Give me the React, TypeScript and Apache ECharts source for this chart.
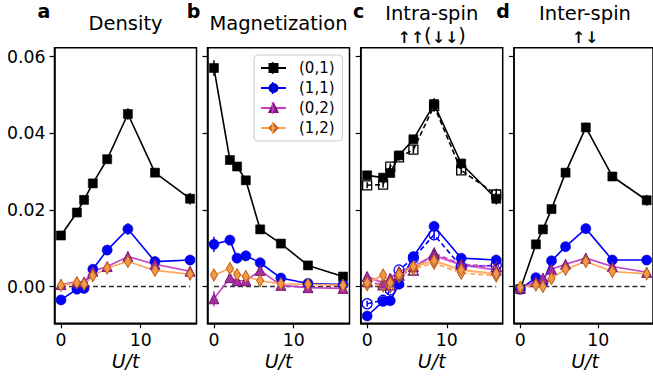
import React, { useEffect, useRef } from 'react';
import * as echarts from 'echarts';

// ---------- data ----------
const UT = [0, 2, 2.9, 4, 5.8, 8.4, 11.8, 16.2];
const SERIES_NAMES = ['(0,1)', '(1,1)', '(0,2)', '(1,2)'];
const Y_TICKS = [0, 0.02, 0.04, 0.06];
const X_TICKS = [0, 10];
const PANEL_LABELS = ['a', 'b', 'c', 'd'];
const PANEL_TITLES = [['Density'], ['Magnetization'], ['Intra-spin', '{ar|↑↑}{p|(}{ar|↓↓}{p|)}'], ['Inter-spin', '{ar|↑↓}']];
const X_LABEL = 'U/t';

// a: Density
const A01 = [0.0133, 0.0193, 0.0226, 0.0269, 0.0332, 0.045, 0.0297, 0.0229];
const A11 = [-0.0035, -0.0007, -0.0005, 0.0045, 0.0095, 0.015, 0.0065, 0.0069];
const A02 = [0.0005, 0.0012, 0.0012, 0.004, 0.0052, 0.0078, 0.0058, 0.004];
const A12 = [0.0003, 0.001, 0.0006, 0.0028, 0.0048, 0.0065, 0.0042, 0.0032];
const A01_ERR = [0.0006, 0.0007, 0.0007, 0.0007, 0.0008, 0.0015, 0.0008, 0.0015];
const A11_ERR = [0.0006, 0.0006, 0.0006, 0.0008, 0.0008, 0.0015, 0.0008, 0.0008];
const A02_ERR = [0.0005, 0.0005, 0.0005, 0.0006, 0.0006, 0.0013, 0.0007, 0.0007];
const A12_ERR = [0.0005, 0.0005, 0.0005, 0.0006, 0.0006, 0.001, 0.0007, 0.0007];

// b: Magnetization
const B01 = [0.057, 0.033, 0.0313, 0.0277, 0.0149, 0.0112, 0.0055, 0.0026];
const B11 = [0.011, 0.0121, 0.0074, 0.008, 0.0062, 0.0022, 0.0008, 0.0005];
const B02 = [-0.0032, 0.0023, 0.0015, 0.0015, 0.0042, 0.0003, -0.0003, -0.0005];
const B12 = [0.003, 0.0047, 0.0031, 0.0026, 0.0015, 0.0007, 0.0006, 0.0003];
const B01_ERR = [0.002, 0.0008, 0.0008, 0.001, 0.0007, 0.0006, 0.0005, 0.0005];
const B11_ERR = [0.002, 0.0013, 0.001, 0.0013, 0.0008, 0.0006, 0.0005, 0.0005];
const B02_ERR = [0.002, 0.001, 0.0008, 0.0008, 0.0008, 0.0006, 0.0006, 0.0006];
const B12_ERR = [0.0008, 0.0008, 0.0008, 0.0008, 0.0006, 0.0005, 0.0005, 0.0005];

// c: Intra-spin (filled: solid, open: dashed)
const C01 = [0.029, 0.0284, 0.0296, 0.0342, 0.0384, 0.0476, 0.0321, 0.0229];
const C11 = [-0.0077, -0.0039, -0.0037, 0.0006, 0.0078, 0.0157, 0.0074, 0.0069];
const C02 = [0.0026, 0.0009, 0.0022, 0.0039, 0.0052, 0.0081, 0.0057, 0.0043];
const C12 = [0.001, 0.003, 0.001, 0.0032, 0.0052, 0.0067, 0.0043, 0.0033];
const C01_OPEN = [0.0264, 0.0266, 0.0313, 0.0337, 0.0357, 0.0471, 0.0303, 0.024];
const C11_OPEN = [-0.0045, -0.0036, -0.0009, 0.0043, 0.0074, 0.0135, 0.0052, 0.0055];
const C02_OPEN = [0.0013, 0.0004, 0.0004, 0.003, 0.0043, 0.0087, 0.0058, 0.0052];
const C12_OPEN = [0.0005, 0.0002, 0.0, 0.0026, 0.0045, 0.0061, 0.0035, 0.0028];
const C01_ERR = [0.0008, 0.0008, 0.0008, 0.0008, 0.001, 0.0015, 0.001, 0.0015];
const C11_ERR = [0.0008, 0.0008, 0.0008, 0.0008, 0.0008, 0.0012, 0.0008, 0.0008];
const C02_ERR = [0.0008, 0.0008, 0.0008, 0.0008, 0.0008, 0.0012, 0.0008, 0.0008];
const C12_ERR = [0.0008, 0.0008, 0.0008, 0.0008, 0.0008, 0.001, 0.0008, 0.0008];

// d: Inter-spin
const D01 = [-0.0007, 0.011, 0.0149, 0.0202, 0.0297, 0.0415, 0.0287, 0.0225];
const D11 = [-0.0007, 0.0023, 0.001, 0.0067, 0.0104, 0.0151, 0.0069, 0.0069];
const D02 = [-0.0004, 0.0013, 0.0022, 0.0045, 0.0058, 0.0074, 0.0052, 0.0037];
const D12 = [-0.0002, 0.0004, 0.0, 0.0021, 0.0045, 0.0065, 0.0039, 0.0033];
const D01_ERR = [0.0005, 0.0007, 0.0007, 0.0008, 0.0008, 0.0012, 0.0008, 0.0014];
const D11_ERR = [0.0005, 0.0006, 0.0006, 0.0007, 0.0008, 0.0012, 0.0008, 0.0008];
const D02_ERR = [0.0005, 0.0005, 0.0005, 0.0006, 0.0006, 0.001, 0.0007, 0.0007];
const D12_ERR = [0.0005, 0.0005, 0.0005, 0.0006, 0.0006, 0.001, 0.0007, 0.0007];

const PANELS_FILLED = [
  [A01, A11, A02, A12],
  [B01, B11, B02, B12],
  [C01, C11, C02, C12],
  [D01, D11, D02, D12],
];
const PANELS_ERR = [
  [A01_ERR, A11_ERR, A02_ERR, A12_ERR],
  [B01_ERR, B11_ERR, B02_ERR, B12_ERR],
  [C01_ERR, C11_ERR, C02_ERR, C12_ERR],
  [D01_ERR, D11_ERR, D02_ERR, D12_ERR],
];
const C_OPEN = [C01_OPEN, C11_OPEN, C02_OPEN, C12_OPEN];

// ---------- styles ----------
const FONT = '"DejaVu Sans", sans-serif';
const STYLES = [
  { line: '#000000', fill: '#000000', border: '#000000', symbol: 'rect', size: 9 as any },
  { line: '#0000ff', fill: '#0000ff', border: '#0000b0', symbol: 'circle', size: 10 as any },
  { line: '#c440c4', fill: '#a42ea4', border: '#761876', symbol: 'triangle', size: 10 as any },
  { line: '#ffa452', fill: '#f39a48', border: '#bf5f18', symbol: 'diamond', size: [7, 12] as any },
];
const GRID_LEFTS = [54.5, 207.5, 360.7, 514];
const GRID_W = 142;
const GRID_TOP = 47.7;
const GRID_H = 275.6;
const Y_MIN = -0.0096;
const Y_MAX = 0.0623;
const X_MIN = -0.81;
const X_MAX = 17.01;

function errRender(color: string) {
  return (params: any, api: any) => {
    const x = api.value(0);
    const y = api.value(1);
    const e = api.value(2);
    const a = api.coord([x, y - e]);
    const b = api.coord([x, y + e]);
    return {
      type: 'line',
      shape: { x1: a[0], y1: a[1], x2: b[0], y2: b[1] },
      style: { stroke: color, lineWidth: 1.5 },
    };
  };
}

function buildOption() {
  const grid: any[] = [];
  const xAxis: any[] = [];
  const yAxis: any[] = [];
  const series: any[] = [];
  const graphic: any[] = [];

  for (let p = 0; p < 4; p++) {
    grid.push({
      left: GRID_LEFTS[p],
      top: GRID_TOP,
      width: GRID_W,
      height: GRID_H,
      show: true,
      borderColor: '#000',
      borderWidth: 1.5,
      backgroundColor: 'transparent',
      containLabel: false,
    });
    xAxis.push({
      gridIndex: p,
      type: 'value',
      min: X_MIN,
      max: X_MAX,
      axisLine: { show: true, onZero: false, lineStyle: { color: '#000', width: 1.5 } },
      axisTick: { show: true, length: 5, lineStyle: { color: '#000', width: 1.2 }, customValues: X_TICKS },
      axisLabel: { show: true, margin: 8, fontSize: 17.3, fontFamily: FONT, color: '#000', customValues: X_TICKS },
      splitLine: { show: false },
    });
    yAxis.push({
      gridIndex: p,
      type: 'value',
      min: Y_MIN,
      max: Y_MAX,
      axisLine: { show: true, onZero: false, lineStyle: { color: '#000', width: 1.5 } },
      axisTick: { show: true, length: 5, lineStyle: { color: '#000', width: 1.2 }, customValues: Y_TICKS },
      axisLabel: {
        show: p === 0,
        margin: 9,
        fontSize: 17.3,
        fontFamily: FONT,
        color: '#000',
        customValues: Y_TICKS,
        formatter: (v: number) => v.toFixed(2),
      },
      splitLine: { show: false },
    });

    // zero dashed line
    series.push({
      type: 'line',
      name: 'zero' + p,
      xAxisIndex: p,
      yAxisIndex: p,
      data: [[UT[0], 0], [UT[UT.length - 1], 0]],
      symbol: 'none',
      lineStyle: { color: '#333', width: 1.3, type: [5, 3] },
      silent: true,
      z: 1,
    });

    for (let k = 0; k < 4; k++) {
      const st = STYLES[k];
      const ys = PANELS_FILLED[p][k];
      const errs = PANELS_ERR[p][k];
      if (p === 2) {
        const yo = C_OPEN[k];
        series.push({
          type: 'custom',
          name: 'err-open' + p + k,
          xAxisIndex: p,
          yAxisIndex: p,
          renderItem: errRender(st.line),
          data: UT.map((x, i) => [x, yo[i], errs[i]]),
          encode: { x: 0, y: 1 },
          z: 2,
          silent: true,
        });
        series.push({
          type: 'line',
          name: 'open' + SERIES_NAMES[k],
          xAxisIndex: p,
          yAxisIndex: p,
          data: UT.map((x, i) => [x, yo[i]]),
          symbol: st.symbol,
          symbolSize: st.size,
          lineStyle: { color: st.line, width: 1.6, type: [5, 3] },
          itemStyle: { color: 'rgba(255,255,255,0)', borderColor: k >= 2 ? st.border : st.line, borderWidth: 1.3 },
          z: 2,
          silent: true,
        });
      }
      series.push({
        type: 'custom',
        name: 'err' + p + k,
        xAxisIndex: p,
        yAxisIndex: p,
        renderItem: errRender(st.line),
        data: UT.map((x, i) => [x, ys[i], errs[i]]),
        encode: { x: 0, y: 1 },
        z: 2,
        silent: true,
      });
      series.push({
        type: 'line',
        name: SERIES_NAMES[k],
        xAxisIndex: p,
        yAxisIndex: p,
        data: UT.map((x, i) => [x, ys[i]]),
        symbol: st.symbol,
        symbolSize: st.size,
        lineStyle: { color: st.line, width: p === 2 && k >= 2 ? 2.2 : 1.6, opacity: p === 2 && k >= 2 ? 0.85 : 1 },
        itemStyle: { color: st.fill, borderColor: st.border, borderWidth: k >= 2 ? 1 : 0.6 },
        z: 2,
        silent: true,
      });
    }

    // panel letter
    const letterX = [44, 193.5, 358.5, 503][p];
    graphic.push({
      type: 'text',
      x: letterX,
      y: 11,
      style: { text: PANEL_LABELS[p], fontSize: 19, fontWeight: 'bold', fontFamily: FONT, fill: '#000', align: 'center', verticalAlign: 'middle' },
    });
    const cx = GRID_LEFTS[p] + GRID_W / 2;
    const lines = PANEL_TITLES[p];
    if (lines.length === 1) {
      graphic.push({
        type: 'text',
        x: cx,
        y: 23,
        style: { text: lines[0], fontSize: 19.5, fontFamily: FONT, fill: '#000', align: 'center', verticalAlign: 'middle' },
      });
    } else {
      graphic.push({
        type: 'text',
        x: cx,
        y: 13.5,
        style: { text: lines[0], fontSize: 19.5, fontFamily: FONT, fill: '#000', align: 'center', verticalAlign: 'middle' },
      });
      graphic.push({
        type: 'text',
        x: cx,
        y: 35.5,
        style: {
          text: lines[1],
          fill: '#000',
          align: 'center',
          verticalAlign: 'middle',
          rich: {
            ar: { fontSize: 22, fontFamily: '"DejaVu Sans Mono", monospace', fill: '#000', color: '#000' },
            p: { fontSize: 19.5, fontFamily: FONT, fill: '#000', color: '#000' },
          },
        },
      });
    }
    graphic.push({
      type: 'text',
      x: cx,
      y: 361,
      style: { text: X_LABEL, fontSize: 19, fontStyle: 'italic', fontFamily: FONT, fill: '#000', align: 'center', verticalAlign: 'middle' },
    });
  }

  // legend errorbar ticks
  for (let k = 0; k < 4; k++) {
    const cy = 68 + k * 20;
    graphic.push({
      type: 'line',
      z: 100,
      shape: { x1: 272.5, y1: cy - 6, x2: 272.5, y2: cy + 6 },
      style: { stroke: STYLES[k].line, lineWidth: 1.5 },
    });
  }

  return {
    animation: false,
    backgroundColor: '#ffffff',
    grid,
    xAxis,
    yAxis,
    series,
    graphic,
    legend: {
      data: SERIES_NAMES,
      orient: 'vertical',
      left: 254,
      top: 55,
      itemWidth: 25,
      itemHeight: 10,
      itemGap: 4,
      padding: [5, 8, 5, 6],
      borderColor: '#cccccc',
      borderWidth: 1,
      borderRadius: 4,
      backgroundColor: 'rgba(255,255,255,0.85)',
      selectedMode: false,
      textStyle: { fontSize: 15, fontFamily: FONT, color: '#000', lineHeight: 16, padding: [0, 0, 0, 8] },
      z: 50,
    },
  };
}

export default function App() {
  const ref = useRef<HTMLDivElement>(null);
  useEffect(() => {
    if (!ref.current) return;
    const chart = echarts.init(ref.current, undefined, { renderer: 'svg' });
    chart.setOption(buildOption() as any);
    return () => chart.dispose();
  }, []);
  return (
    <div
      ref={ref}
      style={{ position: 'fixed', left: 0, top: 0, width: 653, height: 381, background: '#fff' }}
    />
  );
}
